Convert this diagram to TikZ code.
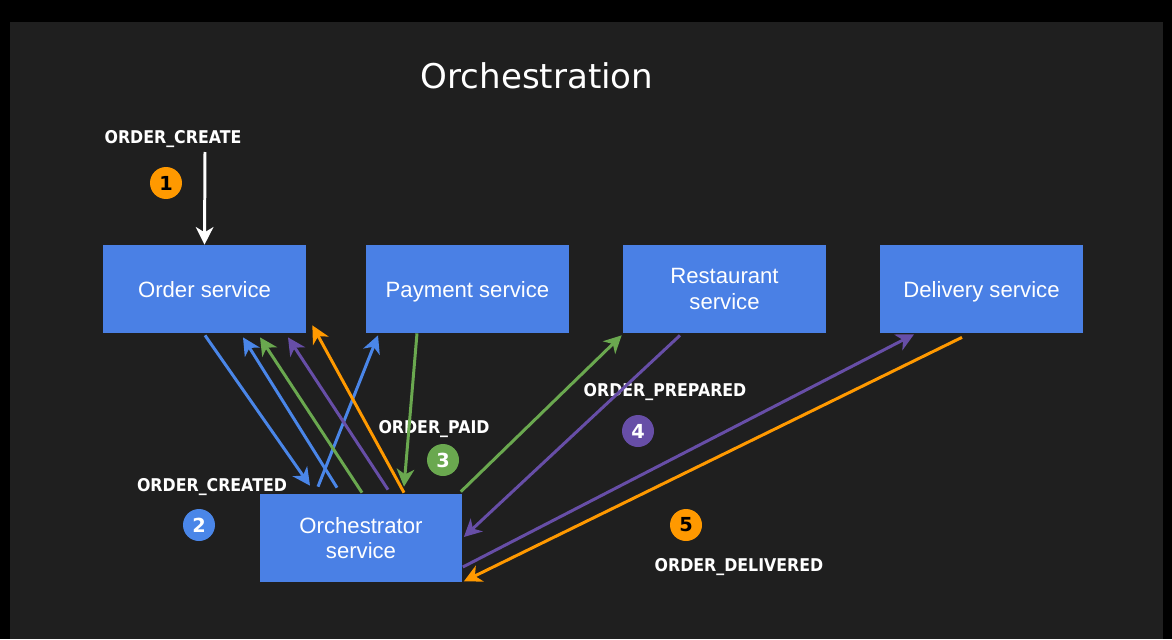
\documentclass[tikz,border=0pt]{standalone}
\usepackage{fontspec}
\setmainfont{DejaVu Sans}
\newfontfamily\svcfont{Liberation Sans}
\newfontfamily\evfont{DejaVu Sans}[FakeStretch=0.9]
\usetikzlibrary{calc,arrows.meta}
\definecolor{slideBg}{HTML}{1F1F1F}
\definecolor{svcAzul}{HTML}{4A80E5}
\definecolor{evAzul}{HTML}{4A86E8}
\definecolor{evVerde}{HTML}{6AA84F}
\definecolor{evMorado}{HTML}{674EA7}
\definecolor{evNaranja}{HTML}{FF9900}

\begin{document}
\begin{tikzpicture}[x=0.02cm, y=-0.02cm,
      svc/.style={fill=svcAzul, text=white, minimum width=4.06cm, minimum height=1.76cm,
                  inner sep=0pt, align=center, text depth=0pt,
                  font=\svcfont\fontsize{12.6}{14.7}\selectfont},
      ev/.style={text=white, inner sep=0pt, font=\evfont\bfseries\fontsize{10}{12}\selectfont},
      num/.style={circle, fill=#1, minimum size=0.64cm, inner sep=0pt, text=white,
                  font=\bfseries\fontsize{11}{13}\selectfont},
      flow/.style={draw=#1, line width=1.7pt, -{Stealth[length=10pt,width=10pt,inset=3pt]}}]
    \fill[black] (0,0) rectangle (1172,639);
    \fill[slideBg] (10,22) rectangle (1163,639);
    \node[text=white, font=\fontsize{19.4}{23}\selectfont] (title) at (537,76) {Orchestration};

    \node[svc] (ord)   at (204.5,289) {Order service};
    \node[svc] (pay)   at (467.5,289) {Payment service};
    \node[svc] (rest)  at (724.5,289) {Restaurant\\service};
    \node[svc] (deliv) at (981.5,289) {Delivery service};
    \node[svc] (orch)  at (361,538)   {Orchestrator\\service};

    \node[ev] (create)    at (173,139) {ORDER\_CREATE};
    \node[ev] (created)   at (212,487) {ORDER\_CREATED};
    \node[ev] (paid)      at (434,429) {ORDER\_PAID};
    \node[ev] (prepared)  at (665,392) {ORDER\_PREPARED};
    \node[ev] (delivered) at (739,567) {ORDER\_DELIVERED};

    \node[num=evNaranja, text=black] (n1) at (166,183) {1};
    \node[num=evAzul]    (n2) at (199,525) {2};
    \node[num=evVerde]   (n3) at (443,460) {3};
    \node[num=evMorado]  (n4) at (638,431) {4};
    \node[num=evNaranja, text=black] (n5) at (686,525) {5};

    % step 1
    \coordinate (in) at (205,152);
    \draw[flow=white] (in) -- (ord.north);
    % step 2
    \draw[flow=evAzul] ($(ord.south)+(0.5,2)$) -- ($(orch.north)+(-51,-8)$);
    \draw[flow=evAzul] ($(orch.north)+(-24,-6)$) -- ($(ord.south)+(38.5,4)$);
    \draw[flow=evAzul] ($(orch.north)+(-43,-7)$) -- ($(pay.south)+(-89.5,2)$);
    % step 3
    \draw[flow=evVerde] ($(pay.south)+(-50.5,0)$) -- ($(orch.north)+(43,-7)$);
    \draw[flow=evVerde] ($(orch.north)+(1,-1)$) -- ($(ord.south)+(55.5,4)$);
    \draw[flow=evVerde] ($(orch.north east)+(-2,-2)$) -- ($(rest.south west)+(-1,2)$);
    % step 4
    \draw[flow=evMorado] ($(rest.south)+(-44.5,2)$) -- ($(orch.east)+(1,-1)$);
    \draw[flow=evMorado] ($(orch.north)+(27,-4)$) -- ($(ord.south)+(83.5,4)$);
    \draw[flow=evMorado] ($(orch.east)+(0,29)$) -- ($(deliv.south)+(-67.5,1)$);
    % step 5
    \draw[flow=evNaranja] ($(deliv.south)+(-19.5,4)$) -- ($(orch.south east)+(1,-1)$);
    \draw[flow=evNaranja] ($(orch.north)+(43,-1)$) -- ($(ord.south east)+(6,-8)$);
  \end{tikzpicture}
\end{document}
